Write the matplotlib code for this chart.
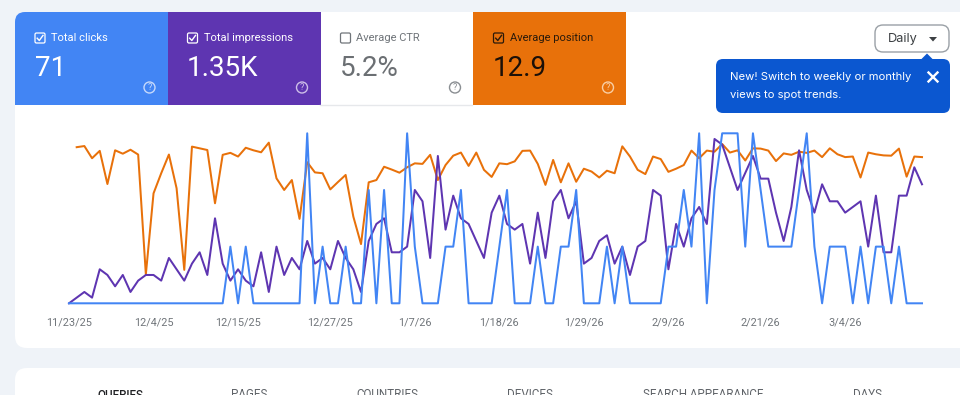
import matplotlib
matplotlib.use("Agg")
import matplotlib.pyplot as plt
import numpy as np
from matplotlib.patches import FancyBboxPatch, Rectangle, Circle, Polygon

plt.rcParams['font.family'] = ['Roboto', 'DejaVu Sans']

clicks = [0]*21 + [1,0,1,0,0,0,0,0,0,0,3,0,1,0,0,1,0,0,2,0,2,0,0,3,1,0,0,0,1,1,2,0,0,0,0,1,2,0,0,0,1,0,0,1,1,2,
          0,0,0,1,0,1,0,0,0,0,0,1,1,2,1,3,0,2,3,3,3,1,3,2,1,1,1,1,2,3,1,0,1,1,1,0,1,0,1,1,0,1,0,0,0]
impressions = [0,1,2,1,6,5,3,5,2,4,5,5,4,8,6,4,7,9,5,15,7,4,6,4,3,9,2,10,5,8,6,11,7,8,6,11,8,6,2,
               11,14,15,9,9,10,20,18,8,26,13,19,15,14,11,8,16,19,14,13,14,7,16,8,18,20,15,18,7,8,11,12,7,10,5,10,11,
               20,19,6,14,10,15,17,14,29,28,24,20,23,26,22,22,16,11,17,27,20,16,21,18,18,16,17,18,10,19,9,9,19,19,24,21]
position = [np.nan,4.9,4.5,8.8,6.2,17.9,6.0,7.2,5.8,7.5,49.8,21.2,14.1,7.5,19.4,48.2,4.7,5.3,5.9,24.7,7.6,6.9,8.2,5.1,6.0,6.7,3.3,
            15.9,20.0,16.5,30.2,10.2,13.8,14.1,19.8,17.2,14.7,29.4,39.1,
            17.3,16.5,11.8,12.8,13.9,12.0,10.6,10.8,7.6,16.5,11.2,7.9,6.8,11.5,6.8,12.9,15.4,10.6,10.9,9.9,6.2,6.1,10.8,18.2,
            9.4,17.3,10.6,17.1,12.5,13.5,15.6,13.2,14.1,4.6,8.2,12.9,14.4,
            8.2,9.1,13.6,12.5,11.2,6.1,8.8,6.1,6.5,3.8,6.8,6.0,9.6,5.3,5.4,6.1,9.8,7.1,7.6,6.5,6.9,6.1,8.4,5.3,7.4,8.4,8.2,
            15.6,6.8,7.4,7.8,7.9,5.4,15.3,8.2,8.4]
tick_days = [0, 11, 22, 34, 45, 56, 67, 78, 90, 101]
tick_labels = ['11/23/25','12/4/25','12/15/25','12/27/25','1/7/26','1/18/26','1/29/26','2/9/26','2/21/26','3/4/26']

metric_names = ['Total clicks','Total impressions','Average CTR','Average position']
metric_values = ['71','1.35K','5.2%','12.9']
tab_names = ['QUERIES','PAGES','COUNTRIES','DEVICES','SEARCH APPEARANCE','DAYS']

BG = '#EFF3F8'; BLUE = '#4285F4'; PURPLE = '#5E35B1'; ORANGE = '#E8710A'; TIP = '#0B57D0'

fig = plt.figure(figsize=(9.6, 3.95), dpi=100, facecolor=BG)

# page furniture in pixel coordinates
bg = fig.add_axes([0, 0, 1, 1], zorder=0)
bg.set_xlim(0, 960); bg.set_ylim(395, 0); bg.axis('off')

def card(x0, y0, x1, y1, r, **kw):
    bg.add_patch(FancyBboxPatch((x0 + r, y0 + r), x1 - x0 - 2*r, y1 - y0 - 2*r,
                                boxstyle=f'round,pad={r},rounding_size={r}', **kw))

card(15, 12, 1000, 348, 12, fc='white', ec='none')
card(15, 368, 1000, 460, 12, fc='white', ec='none')

# metric cards
card(15, 12, 60, 105, 10, fc=BLUE, ec='none')
bg.add_patch(Rectangle((15, 40), 30, 65, fc=BLUE, ec='none'))
bg.add_patch(Rectangle((40, 12), 128, 93, fc=BLUE, ec='none'))
bg.add_patch(Rectangle((167.5, 12), 153, 93, fc=PURPLE, ec='none'))
bg.plot([320, 472], [105, 105], color='#E6E8EB', lw=1)
bg.add_patch(Rectangle((472.5, 12), 153, 93, fc=ORANGE, ec='none'))

card_x = [35, 187.5, 340.5, 493.5]
fg = ['white', 'white', '#70757A', '#2A1A0A']
val_c = ['white', 'white', '#6B6F73', '#1C1008']
q_c = ['#C6D9FB', '#CDBFE8', '#8A8E92', '#F8CFA6']
checked = [True, True, False, True]
for x, n, v, c, vc, qc, ch in zip(card_x, metric_names, metric_values, fg, val_c, q_c, checked):
    card(x, 33, x + 10, 43, 1.5, fc='none', ec=c, lw=0.9)
    if ch:
        bg.plot([x + 2.2, x + 4.3, x + 8], [38.2, 40.5, 35.4], color=c, lw=1.0)
    bg.text(x + 16, 38.3, n, color=c, fontsize=8.05, va='center', ha='left')
    bg.text(x - 0.5, 68, v, color=vc, fontsize=20, va='center', ha='left')
    bg.add_patch(Circle((x + 114.5, 87.5), 5.5, fc='none', ec=qc, lw=1))
    bg.text(x + 114.5, 87.7, '?', color=qc, fontsize=6.5, va='center', ha='center')

# daily button and tooltip
card(875, 25, 949, 52, 8, fc='white', ec='#9AA0A6', lw=1)
bg.text(903, 39, 'Daily', color='#3C4043', fontsize=9.2, va='center', ha='center', family=['Inter', 'DejaVu Sans'])
bg.add_patch(Polygon([[929, 37], [937, 37], [933, 41.5]], fc='#3C4043', ec='none'))
card(716, 59, 950, 113, 7, fc=TIP, ec='none')
bg.add_patch(Polygon([[921, 59.5], [933, 59.5], [927, 53.5]], fc=TIP, ec='none'))
bg.text(729.5, 77.5, 'New! Switch to weekly or monthly', color='white', fontsize=8.1, va='center', ha='left', family=['Inter', 'DejaVu Sans'])
bg.text(729.5, 94.5, 'views to spot trends.', color='white', fontsize=8.1, va='center', ha='left', family=['Inter', 'DejaVu Sans'])
bg.plot([928.5, 937.5], [72.5, 81.5], color='white', lw=1.7)
bg.plot([928.5, 937.5], [81.5, 72.5], color='white', lw=1.7)

# tabs
for x, t, c in zip([120, 249, 387, 530, 703, 867], tab_names,
                   ['#202124', '#5F6368', '#5F6368', '#5F6368', '#5F6368', '#5F6368']):
    bg.text(x, 395, t, color=c, fontsize=8.4, va='center', ha='center', clip_on=True,
            fontweight='medium' if t == 'QUERIES' else 'normal')

# chart: three overlaid scales
days = np.arange(len(clicks))
rect = [69/960, (395 - 303.3)/395, 853/960, 170/395]
ax_pos = fig.add_axes(rect, zorder=1, facecolor='none')
ax_imp = fig.add_axes(rect, zorder=2, facecolor='none')
ax_clk = fig.add_axes(rect, zorder=3, facecolor='none')

ax_pos.plot(days, position, color=ORANGE, lw=1.45, clip_on=False, solid_joinstyle='round')
ax_pos.set_ylim(60, 0)
ax_imp.plot(days, impressions, color=PURPLE, lw=1.45, clip_on=False, solid_joinstyle='round')
ax_imp.set_ylim(0, 30)
ax_clk.plot(days, clicks, color=BLUE, lw=1.45, clip_on=False, solid_joinstyle='round')
ax_clk.set_ylim(0, 3)

for a in (ax_pos, ax_imp, ax_clk):
    a.set_xlim(0, 111)
    for s in a.spines.values():
        s.set_visible(False)
    a.set_yticks([])
    a.set_xticks([])
ax_pos.set_xticks(tick_days)
ax_pos.set_xticklabels(tick_labels, fontsize=7.8, color='#70757A')
ax_pos.tick_params(axis='x', length=0, pad=10)

fig.savefig('out.png', dpi=100, facecolor=BG)
